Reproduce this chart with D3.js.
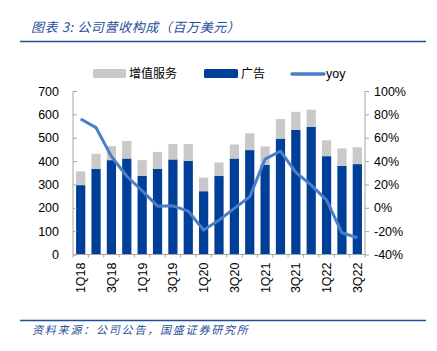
<!DOCTYPE html>
<html>
<head>
<meta charset="utf-8">
<script src="https://cdn.jsdelivr.net/npm/d3@7"></script>
<style>
  body { margin: 0; background: #fff; }
  svg { display: block; }
</style>
</head>
<body>
<div id="chart"></div>
<script>
// Data
const quarters = ["1Q18","2Q18","3Q18","4Q18","1Q19","2Q19","3Q19","4Q19","1Q20","2Q20","3Q20","4Q20",
                  "1Q21","2Q21","3Q21","4Q21","1Q22","2Q22","3Q22"];
const adRevenue = [297, 366, 404, 411, 337, 366, 407, 401, 271, 336, 411, 447, 384, 496, 533, 546, 421, 379, 387];
const vasRevenue = [59, 65, 60, 75, 67, 73, 66, 72, 58, 58, 60, 72, 79, 84, 78, 74, 68, 75, 72];
const yoy = [76, 68.6, 44, 27, 14.6, 1.4, 1.7, -2.9, -19, -10.6, -0.5, 9.4, 41.7, 48.6, 30.3, 19.4, 6.6, -21.4, -25.7];
const leftTicks = [0, 100, 200, 300, 400, 500, 600, 700];
const rightTicks = [-40, -20, 0, 20, 40, 60, 80, 100];
const shownLabels = ["1Q18","3Q18","1Q19","3Q19","1Q20","3Q20","1Q21","3Q21","1Q22","3Q22"];

const width = 437, height = 351;
const margin = { top: 91, right: 72, bottom: 96.5, left: 73 };
const innerW = width - margin.left - margin.right,
      innerH = height - margin.top - margin.bottom;

const blue = "#003f98", gray = "#c9c9c9", lineBlue = "#4a7ec6", titleBlue = "#1f4e9c";
const numFont = "'Liberation Sans', Arial, sans-serif";
const cjkFont = "'Noto Sans CJK SC', sans-serif";

const svg = d3.select("#chart").append("svg")
    .attr("width", width)
    .attr("height", height);

// Title and rules
svg.append("text")
    .attr("x", 31).attr("y", 32)
    .attr("fill", titleBlue)
    .style("font-family", cjkFont)
    .style("font-style", "italic")
    .style("font-size", "13px")
    .style("letter-spacing", "0.6px")
    .text("图表 3:  公司营收构成（百万美元）");
svg.append("line")
    .attr("x1", 20).attr("x2", 426).attr("y1", 41.5).attr("y2", 41.5)
    .attr("stroke", titleBlue).attr("stroke-width", 1.3);
svg.append("line")
    .attr("x1", 20).attr("x2", 426).attr("y1", 320.5).attr("y2", 320.5)
    .attr("stroke", titleBlue).attr("stroke-width", 1.3);
svg.append("text")
    .attr("x", 32).attr("y", 334)
    .attr("fill", titleBlue)
    .style("font-family", cjkFont)
    .style("font-style", "italic")
    .style("font-size", "11px")
    .style("letter-spacing", "1.8px")
    .text("资料来源：公司公告，国盛证券研究所");

// Legend
const legend = svg.append("g").style("font-family", cjkFont).style("font-size", "12px");
legend.append("rect").attr("x", 93).attr("y", 69).attr("width", 33).attr("height", 9).attr("rx", 1.5).attr("fill", gray);
legend.append("text").attr("x", 129).attr("y", 78).text("增值服务");
legend.append("rect").attr("x", 204).attr("y", 69).attr("width", 34).attr("height", 9).attr("rx", 1.5).attr("fill", blue);
legend.append("text").attr("x", 241).attr("y", 78).text("广告");
legend.append("line").attr("x1", 292).attr("x2", 324).attr("y1", 74).attr("y2", 74)
    .attr("stroke", lineBlue).attr("stroke-width", 3.5).attr("stroke-linecap", "round");
legend.append("text").attr("x", 326).attr("y", 78)
    .style("font-family", numFont).style("font-size", "12.5px").text("yoy");

const g = svg.append("g").attr("transform", `translate(${margin.left},${margin.top})`);

// Scales
const x = d3.scaleBand().domain(quarters).range([0, innerW]).paddingInner(0.4).paddingOuter(0.2);
const y = d3.scaleLinear().domain([0, 700]).range([innerH, 0]);
const y2 = d3.scaleLinear().domain([-40, 100]).range([innerH, 0]);

// Stacked bars
const stackData = quarters.map((q, i) => ({ q, ad: adRevenue[i], vas: vasRevenue[i] }));
const series = d3.stack().keys(["ad", "vas"])(stackData);
const colors = { ad: blue, vas: gray };

g.selectAll("g.layer")
    .data(series)
    .enter().append("g")
    .attr("class", "layer")
    .attr("fill", d => colors[d.key])
    .selectAll("rect")
    .data(d => d)
    .enter().append("rect")
    .attr("x", d => x(d.data.q))
    .attr("y", d => y(d[1]))
    .attr("width", x.bandwidth())
    .attr("height", d => y(d[0]) - y(d[1]));

// Axes
const axisColor = "#a6a6a6";
const leftAxis = g.append("g")
    .call(d3.axisLeft(y).tickValues(leftTicks).tickSize(4).tickPadding(10));
leftAxis.selectAll(".tick line").attr("transform", "translate(4,0)");

const rightAxis = g.append("g")
    .attr("transform", `translate(${innerW},0)`)
    .call(d3.axisRight(y2).tickValues(rightTicks).tickSize(4).tickPadding(5).tickFormat(d => d + "%"));

const xAxis = g.append("g")
    .attr("transform", `translate(0,${innerH})`)
    .call(d3.axisBottom(x).tickSize(0).tickValues(shownLabels).tickPadding(8));
xAxis.selectAll("text")
    .attr("transform", "rotate(-90)")
    .attr("text-anchor", "end")
    .attr("x", -8)
    .attr("y", 0)
    .attr("dy", "0.36em");

// small ticks between bars
const step = x.step();
g.append("g").selectAll("line")
    .data(d3.range(quarters.length + 1))
    .enter().append("line")
    .attr("x1", i => x(quarters[0]) - step * 0.2 + i * step)
    .attr("x2", i => x(quarters[0]) - step * 0.2 + i * step)
    .attr("y1", innerH).attr("y2", innerH + 3)
    .attr("stroke", axisColor);

[leftAxis, rightAxis, xAxis].forEach(a => {
    a.select(".domain").attr("stroke", axisColor);
    a.selectAll(".tick line").attr("stroke", axisColor);
    a.selectAll("text")
        .attr("fill", "#000")
        .style("font-family", numFont)
        .style("font-size", "12.5px");
});
leftAxis.select(".domain").attr("d", `M0,0V${innerH}`);
rightAxis.select(".domain").attr("d", `M0,0V${innerH}`);
xAxis.select(".domain").attr("d", `M0,0H${innerW}`);

// YoY line
const line = d3.line()
    .x((d, i) => x(quarters[i]) + x.bandwidth() / 2)
    .y(d => y2(d));
g.append("path")
    .datum(yoy)
    .attr("fill", "none")
    .attr("stroke", lineBlue)
    .attr("stroke-width", 3)
    .attr("stroke-linejoin", "round")
    .attr("d", line);
</script>
</body>
</html>
